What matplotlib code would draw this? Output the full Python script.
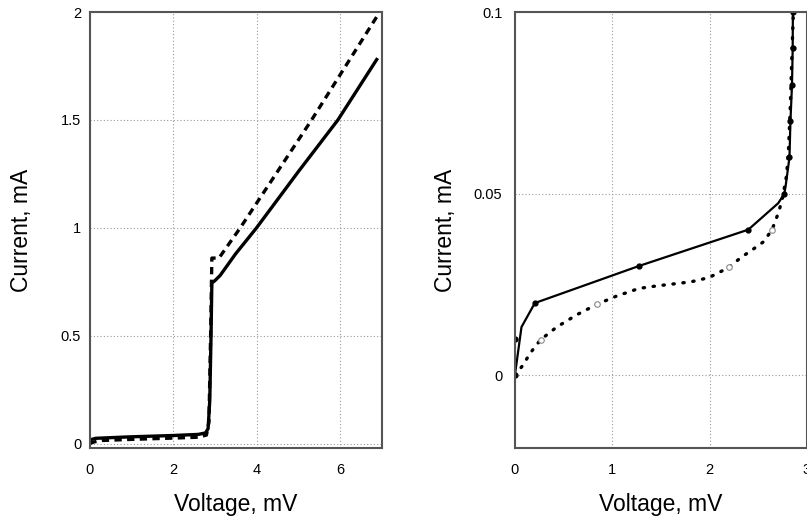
import matplotlib
matplotlib.use("Agg")
import matplotlib.pyplot as plt
from matplotlib.ticker import FuncFormatter

plt.rcParams['font.family'] = ['Liberation Sans', 'DejaVu Sans']

# ---- Left panel data (V in mV, I in mA) ----
left_solid_v = [0.0, 0.05, 0.15, 0.5, 1.0, 2.0, 2.6, 2.78, 2.84, 2.88, 2.91, 2.93, 3.0, 3.13, 3.5, 4.0, 5.0, 5.95, 6.88]
left_solid_i = [0.01, 0.02, 0.025, 0.028, 0.032, 0.038, 0.043, 0.05, 0.07, 0.2, 0.5, 0.745, 0.755, 0.78, 0.88, 1.0, 1.26, 1.5, 1.78]

left_dash_v = [0.0, 0.1, 0.3, 1.0, 2.0, 2.6, 2.8, 2.86, 2.9, 2.93, 3.1, 3.61, 4.5, 5.32, 6.92]
left_dash_i = [0.0, 0.008, 0.015, 0.02, 0.026, 0.03, 0.04, 0.1, 0.5, 0.86, 0.86, 1.0, 1.26, 1.5, 1.99]

# ---- Right panel data ----
right_solid_v = [0.0, 0.068, 0.205, 1.274, 2.397, 2.705, 2.767, 2.78, 2.82, 2.83, 2.846, 2.853, 2.855]
right_solid_i = [0.0, 0.0133, 0.0199, 0.0301, 0.0401, 0.0474, 0.05, 0.052, 0.06, 0.07, 0.08, 0.09, 0.1]

right_solid_mark_v = [0.0, 0.0, 0.205, 1.274, 2.397, 2.767, 2.82, 2.83, 2.846, 2.853, 2.855]
right_solid_mark_i = [0.0, 0.0101, 0.0199, 0.0301, 0.0401, 0.05, 0.06, 0.07, 0.08, 0.09, 0.1]

right_dot_v = [0.0, 0.086, 0.154, 0.264, 0.43, 0.54, 0.63, 0.846, 1.06, 1.165, 1.27, 1.37, 1.48, 1.58, 1.70, 1.80, 1.90, 2.00, 2.11, 2.20, 2.33, 2.43, 2.55, 2.64, 2.71, 2.75, 2.79, 2.81, 2.83, 2.845, 2.86]
right_dot_i = [0.0, 0.0029, 0.006, 0.0098, 0.0133, 0.0151, 0.0166, 0.0196, 0.022, 0.0229, 0.0239, 0.0243, 0.0247, 0.025, 0.0254, 0.0257, 0.0263, 0.027, 0.0285, 0.0298, 0.0326, 0.0344, 0.0367, 0.04, 0.045, 0.049, 0.055, 0.062, 0.075, 0.088, 0.1]

right_open_v = [0.264, 0.846, 2.20, 2.64]
right_open_i = [0.0098, 0.0196, 0.0298, 0.04]

left_xticks = [0, 2, 4, 6]
left_yticks = [0, 0.5, 1, 1.5, 2]
right_xticks = [0, 1, 2, 3]
right_yticks = [0, 0.05, 0.1]

fig = plt.figure(figsize=(8.07, 5.24), dpi=100)
axL = fig.add_axes([0.111, 0.145, 0.362, 0.832])
axR = fig.add_axes([0.638, 0.145, 0.362, 0.832])

fmt = FuncFormatter(lambda v, p: ('%g' % v))

for ax in (axL, axR):
    for s in ax.spines.values():
        s.set_color('#555555')
        s.set_linewidth(1.5)
    ax.grid(True, linestyle=(0, (1, 2)), color='#999999', linewidth=0.8)
    ax.set_axisbelow(True)
    ax.tick_params(length=0, labelsize=10.5, colors='black')
    ax.tick_params(axis='x', pad=11)
    ax.xaxis.set_major_formatter(fmt)
    ax.yaxis.set_major_formatter(fmt)
    ax.set_xlabel('Voltage, mV', fontsize=16.5, labelpad=11)

axL.tick_params(axis='y', pad=6)
axR.tick_params(axis='y', pad=9)

axL.plot(left_dash_v, left_dash_i, color='black', linewidth=2.4, linestyle=(0, (2.2, 1.6)))
axL.plot(left_solid_v, left_solid_i, color='black', linewidth=2.4, solid_joinstyle='round')
axL.set_xlim(0, 7)
axL.set_ylim(-0.02, 2)
axL.set_xticks(left_xticks)
axL.set_yticks(left_yticks)
axL.set_ylabel('Current, mA', fontsize=16.5, labelpad=20)

axR.plot(right_dot_v, right_dot_i, color='black', linewidth=2.4, linestyle=(0, (0.4, 2.6)), dash_capstyle='round')
axR.plot(right_solid_v, right_solid_i, color='black', linewidth=1.6)
axR.plot(right_solid_mark_v, right_solid_mark_i, linestyle='none', marker='o', markersize=3.5, color='black')
axR.plot(right_open_v, right_open_i, linestyle='none', marker='o', markersize=4, markerfacecolor='white', markeredgecolor='#888888', markeredgewidth=0.8)
axR.set_xlim(0, 3)
axR.set_ylim(-0.02, 0.1)
axR.set_xticks(right_xticks)
axR.set_yticks(right_yticks)
axR.set_ylabel('Current, mA', fontsize=16.5, labelpad=12)

fig.savefig('out.png', dpi=100)
